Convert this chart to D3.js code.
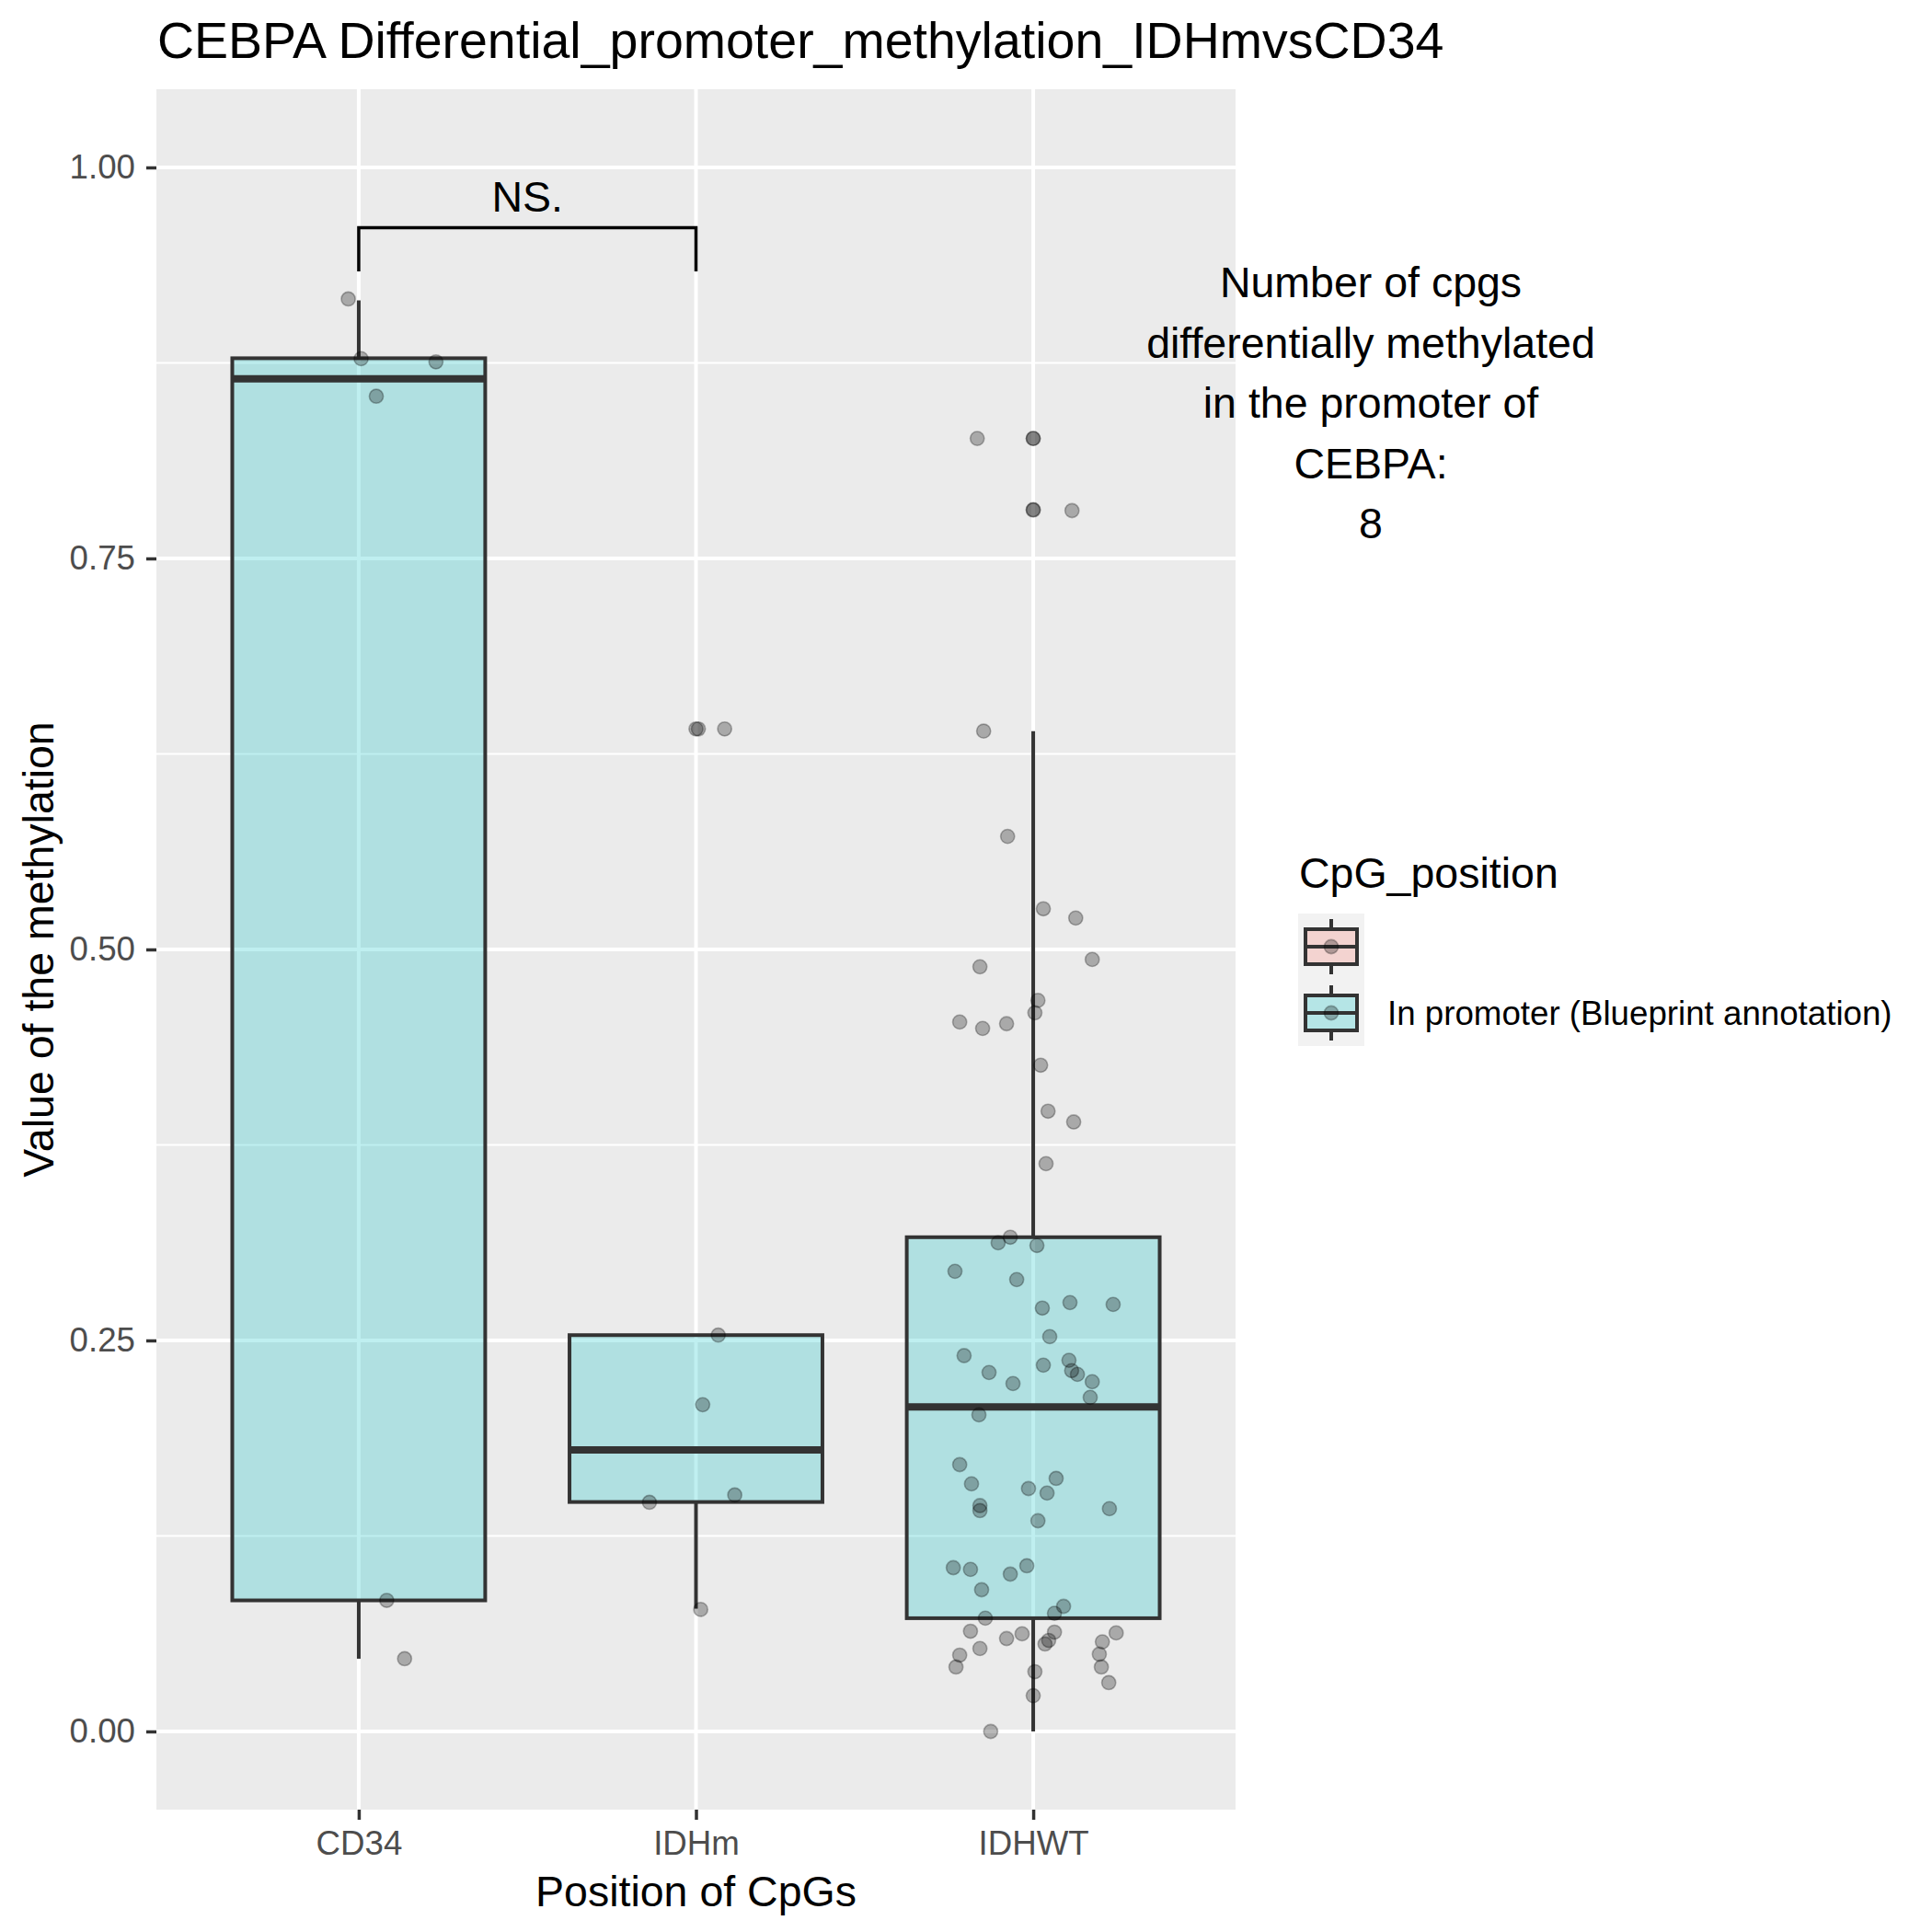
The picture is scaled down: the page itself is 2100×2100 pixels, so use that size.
<!DOCTYPE html>
<html>
<head>
<meta charset="utf-8">
<script src="https://cdn.jsdelivr.net/npm/d3@7"></script>
<style>
  body { margin: 0; background: #fff; }
  text { font-family: "Liberation Sans", Arial, sans-serif; }
</style>
</head>
<body>
<svg width="2100" height="2100"></svg>
<script>
// chart data
var categories = ["CD34", "IDHm", "IDHWT"];
var boxQ1 = [0.0838, 0.1467, 0.0724];
var boxMedian = [0.8648, 0.1800, 0.2075];
var boxQ3 = [0.8780, 0.2534, 0.3160];
var whiskerLow = [0.0465, 0.0785, 0.0];
var whiskerHigh = [0.9150, 0.2534, 0.6396];
var outliers = [[], [0.641], [0.8267, 0.7809]];

// jittered points: value and horizontal jitter (in category units)
var cd34Values = [0.9159, 0.8777, 0.8757, 0.8537, 0.0838, 0.0465];
var cd34Jitter = [-0.031, 0.007, 0.229, 0.052, 0.083, 0.136];
var idhmValues = [0.641, 0.641, 0.2534, 0.2089, 0.1512, 0.1465, 0.078];
var idhmJitter = [0.007, 0.085, 0.066, 0.020, 0.115, -0.138, 0.014];
var idhwtValues = [0.8267, 0.8267, 0.7812, 0.7806, 0.6396, 0.5723, 0.5260, 0.5201, 0.4936, 0.4889,
    0.4674, 0.4595, 0.4536, 0.4495, 0.4525, 0.4260, 0.3966, 0.3897, 0.3630, 0.3160,
    0.3124, 0.3107, 0.2942, 0.2889, 0.2707, 0.2742, 0.2730, 0.2524, 0.2403, 0.2295,
    0.2224, 0.2342, 0.2373, 0.2307, 0.2283, 0.2236, 0.2136, 0.2024, 0.1706, 0.1583,
    0.1444, 0.1412, 0.1553, 0.1524, 0.1618, 0.1347, 0.1424, 0.1047, 0.1036, 0.1006,
    0.1059, 0.0906, 0.0800, 0.0755, 0.0724, 0.0641, 0.0594, 0.0624, 0.0635, 0.0582,
    0.0559, 0.0630, 0.0573, 0.0494, 0.0412, 0.0312, 0.0530, 0.0488, 0.0412, 0.0382,
    0.0229, 0.0];
var idhwtJitter = [-0.166, 0.000, 0.000, 0.115, -0.147, -0.076, 0.030, 0.126, 0.175, -0.158,
    0.014, 0.005, -0.218, -0.150, -0.079, 0.022, 0.044, 0.120, 0.038, -0.068,
    -0.104, 0.011, -0.232, -0.049, 0.027, 0.109, 0.237, 0.049, -0.205, -0.131,
    -0.060, 0.030, 0.106, 0.114, 0.131, 0.175, 0.169, -0.161, -0.218, -0.183,
    -0.158, -0.158, -0.014, 0.041, 0.068, 0.014, 0.226, -0.237, -0.186, -0.068,
    -0.019, -0.153, 0.090, 0.063, -0.142, -0.186, -0.079, -0.033, 0.063, 0.046,
    0.035, 0.246, 0.205, 0.196, 0.202, 0.224, -0.158, -0.218, -0.229, 0.005,
    0.000, -0.126];

var yTicks = [0, 0.25, 0.5, 0.75, 1];
var yMinor = [0.125, 0.375, 0.625, 0.875];

var sigPair = ["CD34", "IDHm"];
var sigTop = 0.9614, sigTip = 0.9336, sigLabel = "NS.";

var legendLabels = ["", "In promoter (Blueprint annotation)"];
var legendColors = ["#F8766D", "#00BFC4"];

var noteLines = ["Number of cpgs", "differentially methylated", "in the promoter of", "CEBPA:", "8"];

var svg = d3.select("svg");
var panel = {left: 170, right: 1343, top: 97, bottom: 1967};

var x = d3.scalePoint()
    .domain(categories)
    .range([panel.left, panel.right])
    .padding(0.6);
var y = d3.scaleLinear()
    .domain([-0.05, 1.05])
    .range([panel.bottom, panel.top]);
var step = x.step();
var boxW = step * 0.75;

svg.append("rect").attr("width", 2100).attr("height", 2100).attr("fill", "#fff");

// panel + grid
svg.append("rect")
    .attr("x", panel.left).attr("y", panel.top)
    .attr("width", panel.right - panel.left)
    .attr("height", panel.bottom - panel.top)
    .attr("fill", "#EBEBEB");

svg.selectAll(".minor").data(yMinor).enter().append("line")
    .attr("x1", panel.left).attr("x2", panel.right)
    .attr("y1", function(d) { return y(d); }).attr("y2", function(d) { return y(d); })
    .attr("stroke", "#fff").attr("stroke-width", 2);
svg.selectAll(".major").data(yTicks).enter().append("line")
    .attr("x1", panel.left).attr("x2", panel.right)
    .attr("y1", function(d) { return y(d); }).attr("y2", function(d) { return y(d); })
    .attr("stroke", "#fff").attr("stroke-width", 4);
svg.selectAll(".vgrid").data(categories).enter().append("line")
    .attr("x1", function(d) { return x(d); }).attr("x2", function(d) { return x(d); })
    .attr("y1", panel.top).attr("y2", panel.bottom)
    .attr("stroke", "#fff").attr("stroke-width", 4);

// boxplots
var boxes = svg.selectAll(".box").data(categories).enter().append("g");
boxes.append("line")
    .attr("x1", function(d) { return x(d); }).attr("x2", function(d) { return x(d); })
    .attr("y1", function(d, i) { return y(boxQ3[i]); })
    .attr("y2", function(d, i) { return y(whiskerHigh[i]); })
    .attr("stroke", "#333333").attr("stroke-width", 4);
boxes.append("line")
    .attr("x1", function(d) { return x(d); }).attr("x2", function(d) { return x(d); })
    .attr("y1", function(d, i) { return y(boxQ1[i]); })
    .attr("y2", function(d, i) { return y(whiskerLow[i]); })
    .attr("stroke", "#333333").attr("stroke-width", 4);
boxes.append("rect")
    .attr("x", function(d) { return x(d) - boxW / 2; })
    .attr("y", function(d, i) { return y(boxQ3[i]); })
    .attr("width", boxW)
    .attr("height", function(d, i) { return y(boxQ1[i]) - y(boxQ3[i]); })
    .attr("fill", "#00BFC4").attr("fill-opacity", 0.25)
    .attr("stroke", "#333333").attr("stroke-width", 4);
boxes.append("line")
    .attr("x1", function(d) { return x(d) - boxW / 2; })
    .attr("x2", function(d) { return x(d) + boxW / 2; })
    .attr("y1", function(d, i) { return y(boxMedian[i]); })
    .attr("y2", function(d, i) { return y(boxMedian[i]); })
    .attr("stroke", "#333333").attr("stroke-width", 8);

function dot(sel) {
    sel.attr("r", 7.6)
        .attr("fill", "#000").attr("fill-opacity", 0.28)
        .attr("stroke", "#000").attr("stroke-opacity", 0.28).attr("stroke-width", 1.6);
}

// outliers from the boxplot layer
var outPts = [];
categories.forEach(function(c, i) {
    outliers[i].forEach(function(v) { outPts.push({cat: c, v: v, j: 0}); });
});
svg.selectAll(".outlier").data(outPts).enter().append("circle")
    .attr("cx", function(d) { return x(d.cat); })
    .attr("cy", function(d) { return y(d.v); })
    .call(dot);

// jittered points
var pts = [];
[[cd34Values, cd34Jitter], [idhmValues, idhmJitter], [idhwtValues, idhwtJitter]].forEach(function(s, i) {
    s[0].forEach(function(v, k) { pts.push({cat: categories[i], v: v, j: s[1][k]}); });
});
svg.selectAll(".pt").data(pts).enter().append("circle")
    .attr("cx", function(d) { return x(d.cat) + d.j * step; })
    .attr("cy", function(d) { return y(d.v); })
    .call(dot);

// significance bracket
var bx1 = x(sigPair[0]), bx2 = x(sigPair[1]);
svg.append("path")
    .attr("d", "M" + bx1 + "," + y(sigTip) + "V" + y(sigTop) + "H" + bx2 + "V" + y(sigTip))
    .attr("fill", "none").attr("stroke", "#000").attr("stroke-width", 3.5);
svg.append("text")
    .attr("x", (bx1 + bx2) / 2).attr("y", y(sigTop) - 18)
    .attr("text-anchor", "middle").attr("font-size", 46.5)
    .text(sigLabel);

// axes
var yAxis = svg.append("g")
    .attr("transform", "translate(" + panel.left + ",0)")
    .call(d3.axisLeft(y).tickValues(yTicks).tickFormat(d3.format(".2f")).tickSize(11).tickPadding(12));
var xAxis = svg.append("g")
    .attr("transform", "translate(0," + panel.bottom + ")")
    .call(d3.axisBottom(x).tickSize(11).tickPadding(12));
[xAxis, yAxis].forEach(function(a) {
    a.select(".domain").remove();
    a.selectAll("line").attr("stroke", "#333333").attr("stroke-width", 3.5);
    a.selectAll("text").attr("fill", "#4D4D4D").attr("font-size", 36.7)
        .attr("font-family", "'Liberation Sans', Arial, sans-serif");
});

// titles
svg.append("text")
    .attr("x", 171).attr("y", 63)
    .attr("font-size", 55.5)
    .text("CEBPA Differential_promoter_methylation_IDHmvsCD34");
svg.append("text")
    .attr("x", (panel.left + panel.right) / 2).attr("y", 2072)
    .attr("text-anchor", "middle").attr("font-size", 46.5)
    .text("Position of CpGs");
svg.append("text")
    .attr("transform", "translate(58," + (panel.top + panel.bottom) / 2 + ") rotate(-90)")
    .attr("text-anchor", "middle").attr("font-size", 46.5)
    .text("Value of the methylation");

// annotation
svg.selectAll(".note").data(noteLines).enter().append("text")
    .attr("x", 1490)
    .attr("y", function(d, i) { return 323 + i * 65.6; })
    .attr("text-anchor", "middle").attr("font-size", 46.5)
    .text(function(d) { return d; });

// legend
svg.append("text")
    .attr("x", 1412).attr("y", 965)
    .attr("font-size", 46.5)
    .text("CpG_position");
var keySize = 72;
svg.append("rect")
    .attr("x", 1411).attr("y", 993)
    .attr("width", keySize).attr("height", keySize * legendLabels.length)
    .attr("fill", "#F2F2F2");
var keys = svg.selectAll(".key").data(legendLabels).enter().append("g")
    .attr("transform", function(d, i) { return "translate(1411," + (993 + i * keySize) + ")"; });
keys.append("line")
    .attr("x1", keySize / 2).attr("x2", keySize / 2)
    .attr("y1", 6).attr("y2", keySize - 6)
    .attr("stroke", "#333333").attr("stroke-width", 4);
keys.append("rect")
    .attr("x", 8).attr("y", 17).attr("width", 56).attr("height", 38)
    .attr("fill", "#F2F2F2").attr("stroke", "none");
keys.append("rect")
    .attr("x", 8).attr("y", 17).attr("width", 56).attr("height", 38)
    .attr("fill", function(d, i) { return legendColors[i]; }).attr("fill-opacity", 0.25)
    .attr("stroke", "#333333").attr("stroke-width", 4);
keys.append("line")
    .attr("x1", 8).attr("x2", 64)
    .attr("y1", keySize / 2).attr("y2", keySize / 2)
    .attr("stroke", "#333333").attr("stroke-width", 4);
keys.append("circle")
    .attr("cx", keySize / 2).attr("cy", keySize / 2)
    .call(dot);
keys.append("text")
    .attr("x", 97).attr("y", keySize / 2 + 13)
    .attr("font-size", 36.7)
    .text(function(d) { return d; });
</script>
</body>
</html>
